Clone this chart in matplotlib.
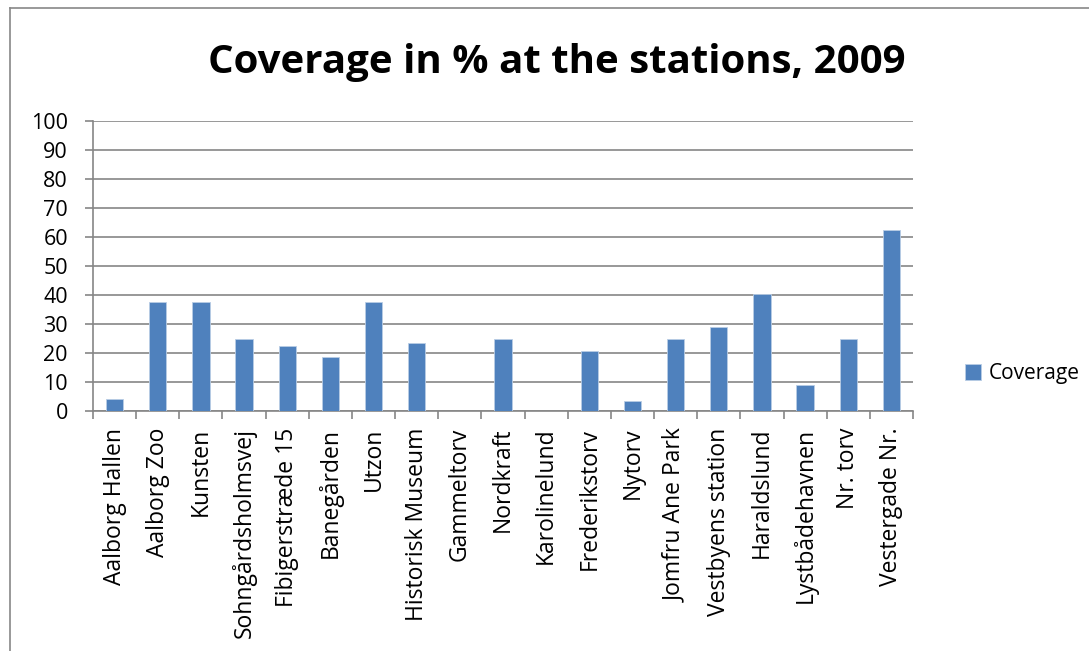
import matplotlib.pyplot as plt
import numpy as np
from matplotlib.lines import Line2D

stations = ['Aalborg Hallen', 'Aalborg Zoo', 'Kunsten', 'Sohngårdsholmsvej', 'Fibigerstræde 15',
            'Banegården', 'Utzon', 'Historisk Museum', 'Gammeltorv', 'Nordkraft', 'Karolinelund',
            'Frederikstorv', 'Nytorv', 'Jomfru Ane Park', 'Vestbyens station', 'Haraldslund',
            'Lystbådehavnen', 'Nr. torv', 'Vestergade Nr.']
coverage = [4, 37.5, 37.5, 25, 22.5, 18.75, 37.5, 23.3, 0, 25, 0,
            20.8, 3.5, 25, 29, 40.5, 9, 25, 62.5]
yticks = [0, 10, 20, 30, 40, 50, 60, 70, 80, 90, 100]

plt.rcParams['font.family'] = ['Open Sans', 'DejaVu Sans']
grid_col = '#868686'

fig = plt.figure(figsize=(10.89, 6.51), dpi=100)
ax = fig.add_axes([93/1089, 1-411/651, 820/1089, 290/651])

x = np.arange(len(stations))
ax.bar(x, coverage, width=0.4, color='#4F81BD', edgecolor='#B9CDE5', linewidth=0.6,
       label='Coverage', zorder=3)

ax.set_ylim(0, 100)
ax.set_xlim(-0.5, len(stations) - 0.5)
ax.set_yticks(yticks)
ax.set_yticklabels([str(v) for v in yticks], fontsize=15.5)
ax.yaxis.grid(True, color=grid_col, linewidth=1.2, zorder=0)
ax.tick_params(axis='y', length=6, color=grid_col, width=1.2, pad=12)

# labels at centres, ticks at category boundaries
ax.set_xticks(x)
ax.set_xticklabels(stations, rotation=90, fontsize=16.5)
ax.tick_params(axis='x', which='major', length=0, pad=12)
ax.set_xticks(np.arange(len(stations) + 1) - 0.5, minor=True)
ax.tick_params(axis='x', which='minor', length=6, color=grid_col, width=1.2)

for s in ['top', 'right']:
    ax.spines[s].set_visible(False)
for s in ['left', 'bottom']:
    ax.spines[s].set_color(grid_col)
    ax.spines[s].set_linewidth(1.2)

fig.text(557/1089, 1-62/651, 'Coverage in % at the stations, 2009', ha='center', va='center',
         fontsize=29, fontweight='bold')

fig.legend(loc='center left', bbox_to_anchor=(946/1089, 1-374/651), frameon=False,
           fontsize=15, handlelength=0.8, handleheight=0.8, handletextpad=0.35)

# outer chart border
fig.add_artist(Line2D([10/1089, 1], [1-8/651, 1-8/651], color='#888888', linewidth=1.2))
fig.add_artist(Line2D([10/1089, 10/1089], [0, 1-8/651], color='#888888', linewidth=1.2))

fig.savefig('out.png', dpi=100)
